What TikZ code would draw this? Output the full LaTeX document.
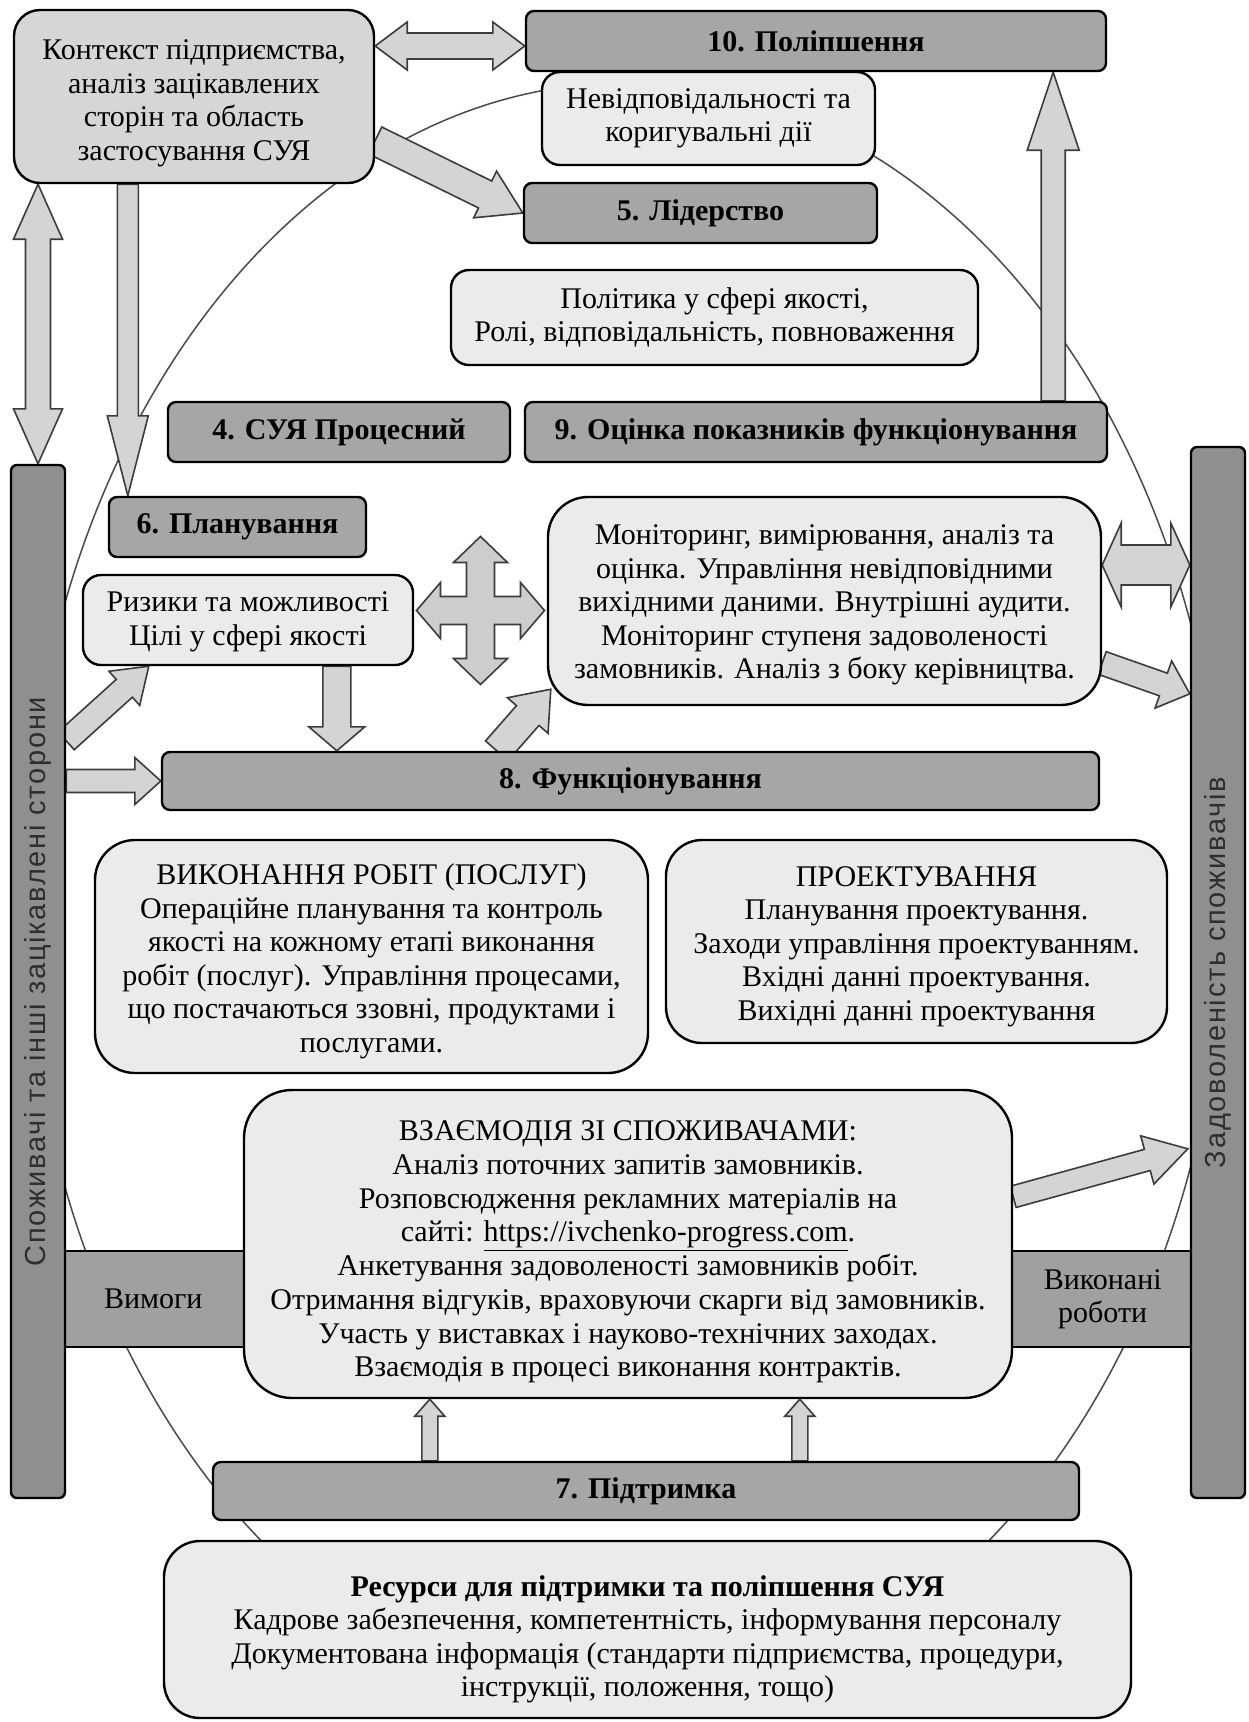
\documentclass[tikz,border=0pt]{standalone}
\usepackage{fontspec}
\setmainfont{Liberation Serif}
\setsansfont{Liberation Sans}
\newfontfamily\sidefont[LetterSpace=6]{Liberation Sans}
\usetikzlibrary{calc}
\pgfdeclarelayer{ringlayer}
\pgfdeclarelayer{back}
\pgfsetlayers{ringlayer,back,main}
\definecolor{darkfill}{HTML}{A6A6A6}
\definecolor{barfill}{HTML}{8F8F8F}
\definecolor{reqfill}{HTML}{A0A0A0}
\definecolor{midfill}{HTML}{D6D6D6}
\definecolor{lightfill}{HTML}{EBEBEB}
\definecolor{arrfill}{HTML}{D4D4D4}
\definecolor{quadfill}{HTML}{CDCDCD}
\definecolor{arrline}{HTML}{3C3C3C}
\definecolor{ringcol}{HTML}{4A4A4A}
\definecolor{sidetxt}{HTML}{2E2E2E}
\newcommand{\fsz}{\fontsize{30}{33.5}\selectfont}
\newcommand{\sidefsz}{\sidefont\fontsize{29}{33}\selectfont}
\newcommand{\blockarrow}[5]{%
  \coordinate (bah) at ($(#2)!#5!(#1)$);
  \draw[blockarr] ($(#1)!#3!90:(#2)$) -- ($(bah)!#3!90:(#2)$) -- ($(bah)!#4!90:(#2)$) -- (#2) -- ($(bah)!#4!-90:(#2)$) -- ($(bah)!#3!-90:(#2)$) -- ($(#1)!#3!-90:(#2)$) -- cycle;
}
\newcommand{\dblockarrow}[5]{%
  \coordinate (dba) at ($(#1)!#5!(#2)$);
  \coordinate (dbb) at ($(#2)!#5!(#1)$);
  \draw[blockarr] (#1) -- ($(dba)!#4!90:(#2)$) -- ($(dba)!#3!90:(#2)$) -- ($(dbb)!#3!90:(#2)$) -- ($(dbb)!#4!90:(#2)$) -- (#2) -- ($(dbb)!#4!-90:(#2)$) -- ($(dbb)!#3!-90:(#2)$) -- ($(dba)!#3!-90:(#2)$) -- ($(dba)!#4!-90:(#2)$) -- cycle;
}
\tikzset{
  base/.style={draw=black, line width=2.4pt, inner sep=0pt, align=center, font=\fsz},
  titlebar/.style={base, fill=darkfill, rounded corners=8pt, font=\fsz\bfseries},
  lightbox/.style={base, fill=lightfill, rounded corners=22pt},
  ctxbox/.style={base, fill=midfill, rounded corners=26pt},
  sidebar/.style={base, fill=barfill, rounded corners=6pt},
  reqbar/.style={base, fill=reqfill, rounded corners=0pt},
  blockarr/.style={draw=arrline, line width=1.6pt, fill=arrfill, line join=miter},
  ring/.style={draw=ringcol, line width=1.5pt},
  sidetext/.style={rotate=90, font=\sidefsz, text=sidetxt, inner sep=0pt},
  plaintext/.style={font=\fsz, align=center, inner sep=0pt},
  boxtext/.style={plaintext, yshift=-#1}
}
\begin{document}
\begin{tikzpicture}[x=1pt,y=-1pt]
\begin{pgfonlayer}{ringlayer}
\fill[white] (0,0) rectangle (1249,1722);
\draw[ring] (625,895) ellipse [x radius=600pt, y radius=812pt];
\end{pgfonlayer}
\useasboundingbox (0,0) rectangle (1249,1722);

% boxes
\node[ctxbox, minimum width=360pt, minimum height=173pt, label={[boxtext=7pt]center:{Контекст підприємства,\\аналіз зацікавлених\\сторін та область\\застосування СУЯ}}] (ctx) at (194,96.5) {};
\node[titlebar, minimum width=580pt, minimum height=60pt] (imp) at (816,41) {10. Поліпшення};
\node[lightbox, rounded corners=18pt, minimum width=333pt, minimum height=93pt] (nc) at (708.5,118.5) {Невідповідальності та\\коригувальні дії};
\node[titlebar, minimum width=353pt, minimum height=60pt] (lead) at (700.5,213) {5. Лідерство};
\node[lightbox, rounded corners=18pt, minimum width=527pt, minimum height=95pt] (pol) at (714.5,317.5) {Політика у сфері якості,\\Ролі, відповідальність, повноваження};
\node[titlebar, minimum width=342pt, minimum height=60pt] (qms) at (339,432) {4. СУЯ Процесний};
\node[titlebar, minimum width=582pt, minimum height=60pt] (eval) at (816,432) {9. Оцінка показників функціонування};
\node[sidebar, minimum width=54pt, minimum height=1033pt] (cons) at (38,981.5) {};
\node[sidebar, minimum width=54pt, minimum height=1051pt] (sat) at (1218,972.5) {};
\node[titlebar, minimum width=257pt, minimum height=60pt] (plan) at (237.5,527) {6. Планування};
\node[lightbox, rounded corners=18pt, minimum width=330pt, minimum height=90pt, label={[boxtext=2pt]center:{Ризики та можливості\\Цілі у сфері якості}}] (risk) at (248,620) {};
\node[lightbox, rounded corners=40pt, minimum width=553pt, minimum height=208pt, label={[boxtext=4pt]center:{Моніторинг, вимірювання, аналіз та\\оцінка. Управління невідповідними\\вихідними даними. Внутрішні аудити.\\Моніторинг ступеня задоволеності\\замовників. Аналіз з боку керівництва.}}] (mon) at (824.5,601) {};
\node[titlebar, minimum width=937pt, minimum height=58pt] (oper) at (630.5,781) {8. Функціонування};
\node[lightbox, rounded corners=40pt, minimum width=553pt, minimum height=233pt, label={[boxtext=5pt]center:{ВИКОНАННЯ РОБІТ (ПОСЛУГ)\\Операційне планування та контроль\\якості на кожному етапі виконання\\робіт (послуг). Управління процесами,\\що постачаються ззовні, продуктами і\\послугами.}}] (exec) at (371.5,956.5) {};
\node[lightbox, rounded corners=36pt, minimum width=501pt, minimum height=203pt, label={[boxtext=5pt]center:{ПРОЕКТУВАННЯ\\Планування проектування.\\Заходи управління проектуванням.\\Вхідні данні проектування.\\Вихідні данні проектування}}] (design) at (916.5,941.5) {};
\node[lightbox, rounded corners=48pt, minimum width=768pt, minimum height=308pt, label={[boxtext=8pt, font=\fontsize{30}{33.7}\selectfont]center:{ВЗАЄМОДІЯ ЗІ СПОЖИВАЧАМИ:\\Аналіз поточних запитів замовників.\\Розповсюдження рекламних матеріалів на\\сайті: \underline{https://ivchenko-progress.com}.\\Анкетування задоволеності замовників робіт.\\Отримання відгуків, враховуючи скарги від замовників.\\Участь у виставках і науково-технічних заходах.\\Взаємодія в процесі виконання контрактів.}}] (cust) at (628,1244) {};
\node[titlebar, minimum width=866pt, minimum height=58pt] (sup) at (646,1491) {7. Підтримка};
\node[lightbox, rounded corners=36pt, minimum width=967pt, minimum height=177pt, label={[boxtext=10pt]center:{\textbf{Ресурси для підтримки та поліпшення СУЯ}\\Кадрове забезпечення, компетентність, інформування персоналу\\Документована інформація (стандарти підприємства, процедури,\\інструкції, положення, тощо)}}] (res) at (647.5,1629.5) {};

% bar labels
\node[sidetext] (consl) at (cons.center) {Споживачі та інші зацікавлені сторони};
\node[sidetext] (satl) at (sat.center) {Задоволеність споживачів};

% arrow end points
\coordinate (a1s) at ($(ctx.east |- imp.west)+(0,5)$);
\coordinate (a1e) at ($(imp.west)+(0,5)$);
\coordinate (b1s) at ($(ctx.east)+(0,44)$);
\coordinate (b1e) at (lead.west);
\coordinate (c1s) at ($(eval.north east)+(-55,0)$);
\coordinate (c1e) at (c1s |- imp.south);
\coordinate (d1e) at (cons.north);
\coordinate (d1s) at (d1e |- ctx.south);
\coordinate (e1s) at ($(ctx.south west)+(115,0)$);
\coordinate (e1e) at (e1s |- plan.north);
\coordinate (f1s) at ($(cons.north east)+(0,277)$);
\coordinate (f1e) at ($(risk.south west)+(67,0)$);
\coordinate (g1s) at ($(risk.south west)+(255,0)$);
\coordinate (g1e) at (g1s |- oper.north);
\coordinate (h1s) at (cons.east |- oper.west);
\coordinate (h1e) at (oper.west);
\coordinate (i1s) at ($(oper.north west)+(336,0)$);
\coordinate (i1e) at ($(mon.south west)+(4,-17)$);
\coordinate (j1s) at ($(mon.east)+(0,-36)$);
\coordinate (j1e) at (j1s -| sat.west);
\coordinate (k1s) at ($(mon.east)+(0,62)$);
\coordinate (k1e) at ($(sat.north west)+(0,248)$);
\coordinate (l1s) at ($(cust.north east)+(0,108)$);
\coordinate (l1e) at ($(sat.north west)+(-2,703)$);
\coordinate (m1s) at ($(sup.north west)+(218,0)$);
\coordinate (m1e) at (m1s |- cust.south);
\coordinate (m2s) at ($(sup.north west)+(588,0)$);
\coordinate (m2e) at (m2s |- cust.south);
\coordinate (quad) at ($(risk.east)!0.5!(mon.west)$);

\begin{pgfonlayer}{back}
% requirements bar behind the customer box
\node[reqbar, minimum width=1126pt, minimum height=96pt] (req) at (628,1299) {};
\node[plaintext] (reql) at ($(req.west)!0.5!(cust.west |- req.west)$) {Вимоги};
\node[plaintext] (donel) at ($(req.east)!0.5!(cust.east |- req.east)$) {Виконані\\роботи};
% block arrows
\dblockarrow{a1s}{a1e}{13pt}{24pt}{32pt}
\blockarrow{b1s}{b1e}{15pt}{26pt}{42pt}
\blockarrow{c1s}{c1e}{12pt}{26pt}{78pt}
\dblockarrow{d1s}{d1e}{12.5pt}{24.5pt}{55pt}
\blockarrow{e1s}{e1e}{10.5pt}{20.5pt}{80pt}
\blockarrow{f1s}{f1e}{12pt}{23pt}{33pt}
\blockarrow{g1s}{g1e}{14pt}{28pt}{24pt}
\blockarrow{h1s}{h1e}{11.5pt}{23.5pt}{26pt}
\blockarrow{i1s}{i1e}{15pt}{27pt}{35pt}
\dblockarrow{j1s}{j1e}{20pt}{42pt}{19pt}
\blockarrow{k1s}{k1e}{12pt}{25pt}{28pt}
\blockarrow{l1s}{l1e}{11pt}{25pt}{42pt}
\blockarrow{m1s}{m1e}{8pt}{15pt}{17pt}
\blockarrow{m2s}{m2e}{8pt}{15pt}{17pt}
\draw[blockarr, fill=quadfill, shift={(quad)}] (64,0) -- (40,-28) -- (40,-14) -- (14,-14) -- (14,-48) -- (27,-48) -- (0,-74) -- (-27,-48) -- (-14,-48) -- (-14,-14) -- (-40,-14) -- (-40,-28) -- (-64,0) -- (-40,28) -- (-40,14) -- (-14,14) -- (-14,48) -- (-27,48) -- (0,74) -- (27,48) -- (14,48) -- (14,14) -- (40,14) -- (40,28) -- cycle;
\end{pgfonlayer}
\end{tikzpicture}
\end{document}
